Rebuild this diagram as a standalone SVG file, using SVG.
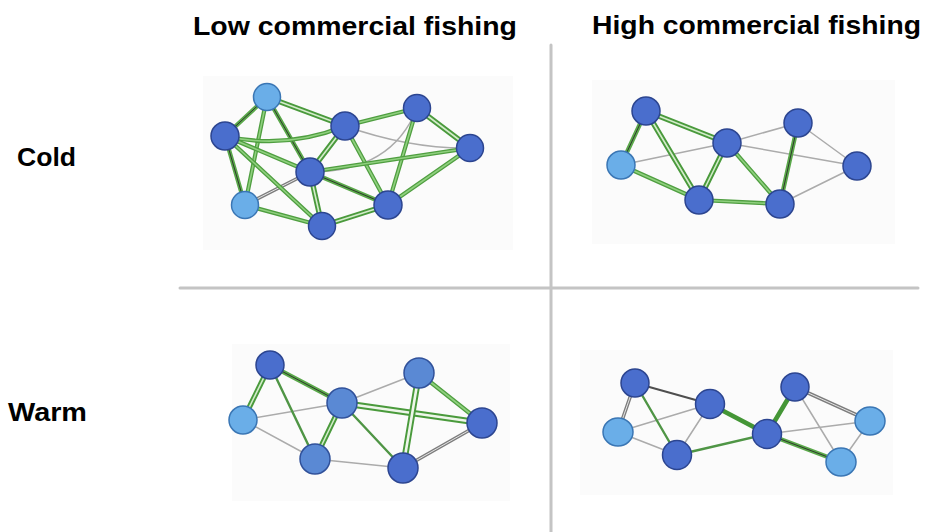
<svg xmlns="http://www.w3.org/2000/svg" width="925" height="532" viewBox="0 0 925 532">
  <style>
    text { font-family: "Liberation Sans", Arial, sans-serif; font-weight: bold; fill: #000; }
    .title { font-size: 26px; }
    .row { font-size: 25px; }
    .divider { stroke: #c4c4c4; stroke-width: 3; }
    .panel { fill: #fbfbfb; }
    line, path { fill: none; stroke-linecap: round; }
    /* green edge, two-tone band */
    .g { stroke: #4f9e40; stroke-width: 4.2; }
    .g-in { stroke: #8fd07e; stroke-width: 1.6; }
    /* doubled green edge */
    .gd { stroke: #4a9a3c; stroke-width: 5.4; }
    .gd-in { stroke: #d3ecca; stroke-width: 1.6; }
    /* wide doubled green edge */
    .gw { stroke: #4a9a3c; stroke-width: 6.5; }
    .gw-in { stroke: #eef6ea; stroke-width: 2.6; }
    /* green edge with dark companion line */
    .gk { stroke: #5aa84a; stroke-width: 4.4; }
    .gk-in { stroke: #2e3a2c; stroke-width: 1; }
    /* slim green edge */
    .gs { stroke: #4f9545; stroke-width: 2.4; }
    /* heavy green edge */
    .gh { stroke: #449636; stroke-width: 4.6; }
    /* thin grey edges */
    .t { stroke: #ababab; stroke-width: 1.5; }
    .tk { stroke: #4e4e4e; stroke-width: 2; }
    .td { stroke: #7d7d7d; stroke-width: 3.6; }
    .td-in { stroke: #e4e4e4; stroke-width: 1; }
    /* nodes */
    .dark { fill: #4a6ecd; stroke: #2c4590; stroke-width: 1.5; }
    .mid { fill: #5a89d4; stroke: #30519a; stroke-width: 1.5; }
    .light { fill: #6aaee8; stroke: #3a76b4; stroke-width: 1.5; }
  </style>

  <!-- panel backgrounds -->
  <g id="panels">
    <rect class="panel" x="203" y="76" width="310" height="174"/>
    <rect class="panel" x="592" y="80" width="303" height="164"/>
    <rect class="panel" x="232" y="344" width="278" height="157"/>
    <rect class="panel" x="580" y="350" width="313" height="145"/>
  </g>

  <!-- quadrant dividers -->
  <g id="dividers">
    <line class="divider" x1="551" y1="45" x2="551" y2="532"/>
    <line class="divider" x1="180" y1="288" x2="918" y2="288"/>
  </g>

  <!-- headings -->
  <g id="labels">
    <text class="title" x="193" y="35" textLength="324" lengthAdjust="spacingAndGlyphs">Low commercial fishing</text>
    <text class="title" x="592" y="34" textLength="329" lengthAdjust="spacingAndGlyphs">High commercial fishing</text>
    <text class="row" x="17" y="166" textLength="59" lengthAdjust="spacingAndGlyphs">Cold</text>
    <text class="row" x="8" y="421" textLength="79" lengthAdjust="spacingAndGlyphs">Warm</text>
  </g>

  <!-- connectors -->
  <g id="connectors">
    <!-- cold / low fishing -->
    <g id="edges-cold-low">
      <path class="t" d="M345,126 Q410,149 470,148"/>
      <path class="t" d="M417,108 Q392,172 310,172"/>
      <line class="td" x1="310" y1="172" x2="245" y2="205"/>
      <line class="td-in" x1="310" y1="172" x2="245" y2="205"/>
      <line class="gk" x1="267" y1="97" x2="225" y2="136"/>
      <line class="gk-in" x1="267" y1="97" x2="225" y2="136"/>
      <line class="gd" x1="267" y1="97" x2="345" y2="126"/>
      <line class="gd-in" x1="267" y1="97" x2="345" y2="126"/>
      <line class="g" x1="267" y1="97" x2="245" y2="205"/>
      <line class="g-in" x1="267" y1="97" x2="245" y2="205"/>
      <line class="gk" x1="267" y1="97" x2="310" y2="172"/>
      <line class="gk-in" x1="267" y1="97" x2="310" y2="172"/>
      <path class="g" d="M225,136 Q285,150 345,126"/>
      <path class="g-in" d="M225,136 Q285,150 345,126"/>
      <line class="gk" x1="225" y1="136" x2="245" y2="205"/>
      <line class="gk-in" x1="225" y1="136" x2="245" y2="205"/>
      <line class="g" x1="225" y1="136" x2="310" y2="172"/>
      <line class="g-in" x1="225" y1="136" x2="310" y2="172"/>
      <line class="g" x1="225" y1="136" x2="322" y2="226"/>
      <line class="g-in" x1="225" y1="136" x2="322" y2="226"/>
      <line class="gd" x1="345" y1="126" x2="310" y2="172"/>
      <line class="gd-in" x1="345" y1="126" x2="310" y2="172"/>
      <line class="g" x1="345" y1="126" x2="388" y2="205"/>
      <line class="g-in" x1="345" y1="126" x2="388" y2="205"/>
      <line class="g" x1="345" y1="126" x2="417" y2="108"/>
      <line class="g-in" x1="345" y1="126" x2="417" y2="108"/>
      <line class="gd" x1="417" y1="108" x2="470" y2="148"/>
      <line class="gd-in" x1="417" y1="108" x2="470" y2="148"/>
      <line class="g" x1="417" y1="108" x2="388" y2="205"/>
      <line class="g-in" x1="417" y1="108" x2="388" y2="205"/>
      <line class="g" x1="470" y1="148" x2="310" y2="172"/>
      <line class="g-in" x1="470" y1="148" x2="310" y2="172"/>
      <line class="g" x1="470" y1="148" x2="388" y2="205"/>
      <line class="g-in" x1="470" y1="148" x2="388" y2="205"/>
      <line class="gd" x1="310" y1="172" x2="322" y2="226"/>
      <line class="gd-in" x1="310" y1="172" x2="322" y2="226"/>
      <line class="gk" x1="310" y1="172" x2="388" y2="205"/>
      <line class="gk-in" x1="310" y1="172" x2="388" y2="205"/>
      <line class="g" x1="245" y1="205" x2="322" y2="226"/>
      <line class="g-in" x1="245" y1="205" x2="322" y2="226"/>
      <line class="gd" x1="322" y1="226" x2="388" y2="205"/>
      <line class="gd-in" x1="322" y1="226" x2="388" y2="205"/>
    </g>

    <!-- cold / high fishing -->
    <g id="edges-cold-high">
      <line class="t" x1="621" y1="165" x2="727" y2="143"/>
      <line class="t" x1="727" y1="143" x2="798" y2="123"/>
      <line class="t" x1="727" y1="143" x2="857" y2="166"/>
      <line class="t" x1="798" y1="123" x2="857" y2="166"/>
      <line class="t" x1="780" y1="204" x2="857" y2="166"/>
      <line class="gk" x1="646" y1="111" x2="621" y2="165"/>
      <line class="gk-in" x1="646" y1="111" x2="621" y2="165"/>
      <line class="gd" x1="646" y1="111" x2="727" y2="143"/>
      <line class="gd-in" x1="646" y1="111" x2="727" y2="143"/>
      <line class="gd" x1="646" y1="111" x2="699" y2="200"/>
      <line class="gd-in" x1="646" y1="111" x2="699" y2="200"/>
      <line class="g" x1="621" y1="165" x2="699" y2="200"/>
      <line class="g-in" x1="621" y1="165" x2="699" y2="200"/>
      <line class="gd" x1="727" y1="143" x2="699" y2="200"/>
      <line class="gd-in" x1="727" y1="143" x2="699" y2="200"/>
      <line class="g" x1="727" y1="143" x2="780" y2="204"/>
      <line class="g-in" x1="727" y1="143" x2="780" y2="204"/>
      <line class="gk" x1="798" y1="123" x2="780" y2="204"/>
      <line class="gk-in" x1="798" y1="123" x2="780" y2="204"/>
      <line class="g" x1="699" y1="200" x2="780" y2="204"/>
      <line class="g-in" x1="699" y1="200" x2="780" y2="204"/>
    </g>

    <!-- warm / low fishing -->
    <g id="edges-warm-low">
      <line class="t" x1="243" y1="420" x2="342" y2="403"/>
      <line class="t" x1="243" y1="420" x2="315" y2="459"/>
      <line class="t" x1="342" y1="403" x2="419" y2="373"/>
      <line class="t" x1="315" y1="459" x2="403" y2="468"/>
      <line class="td" x1="403" y1="468" x2="482" y2="423"/>
      <line class="td-in" x1="403" y1="468" x2="482" y2="423"/>
      <line class="gd" x1="270" y1="365" x2="243" y2="420"/>
      <line class="gd-in" x1="270" y1="365" x2="243" y2="420"/>
      <line class="gk" x1="270" y1="365" x2="342" y2="403"/>
      <line class="gk-in" x1="270" y1="365" x2="342" y2="403"/>
      <line class="gs" x1="270" y1="365" x2="315" y2="459"/>
      <line class="gd" x1="342" y1="403" x2="315" y2="459"/>
      <line class="gd-in" x1="342" y1="403" x2="315" y2="459"/>
      <line class="gs" x1="342" y1="403" x2="403" y2="468"/>
      <line class="gw" x1="342" y1="403" x2="482" y2="423"/>
      <line class="gw-in" x1="342" y1="403" x2="482" y2="423"/>
      <line class="gw" x1="419" y1="373" x2="403" y2="468"/>
      <line class="gw-in" x1="419" y1="373" x2="403" y2="468"/>
      <line class="g" x1="419" y1="373" x2="482" y2="423"/>
      <line class="g-in" x1="419" y1="373" x2="482" y2="423"/>
    </g>

    <!-- warm / high fishing -->
    <g id="edges-warm-high">
      <line class="t" x1="618" y1="432" x2="710" y2="404"/>
      <line class="t" x1="618" y1="432" x2="677" y2="455"/>
      <line class="t" x1="710" y1="404" x2="677" y2="455"/>
      <line class="t" x1="767" y1="434" x2="870" y2="421"/>
      <line class="t" x1="795" y1="387" x2="841" y2="462"/>
      <line class="t" x1="870" y1="421" x2="841" y2="462"/>
      <line class="td" x1="635" y1="383" x2="618" y2="432"/>
      <line class="td-in" x1="635" y1="383" x2="618" y2="432"/>
      <line class="tk" x1="635" y1="383" x2="710" y2="404"/>
      <line class="gs" x1="635" y1="383" x2="677" y2="455"/>
      <line class="gh" x1="710" y1="404" x2="767" y2="434"/>
      <line class="gs" x1="677" y1="455" x2="767" y2="434"/>
      <line class="gh" x1="767" y1="434" x2="795" y2="387"/>
      <line class="gk" x1="767" y1="434" x2="841" y2="462"/>
      <line class="gk-in" x1="767" y1="434" x2="841" y2="462"/>
      <line class="td" x1="795" y1="387" x2="870" y2="421"/>
      <line class="td-in" x1="795" y1="387" x2="870" y2="421"/>
    </g>
  </g>

  <!-- nodes: cold / low fishing -->
  <g id="cl-a"><circle class="light" cx="267" cy="97" r="13.5"/></g>
  <g id="cl-b"><circle class="dark" cx="225" cy="136" r="14"/></g>
  <g id="cl-c"><circle class="dark" cx="345" cy="126" r="14"/></g>
  <g id="cl-d"><circle class="dark" cx="417" cy="108" r="13.5"/></g>
  <g id="cl-e"><circle class="dark" cx="470" cy="148" r="13.5"/></g>
  <g id="cl-f"><circle class="dark" cx="310" cy="172" r="14"/></g>
  <g id="cl-g"><circle class="light" cx="245" cy="205" r="13.5"/></g>
  <g id="cl-h"><circle class="dark" cx="322" cy="226" r="13.5"/></g>
  <g id="cl-i"><circle class="dark" cx="388" cy="205" r="14"/></g>

  <!-- nodes: cold / high fishing -->
  <g id="ch-a"><circle class="dark" cx="646" cy="111" r="14"/></g>
  <g id="ch-b"><circle class="light" cx="621" cy="165" r="14"/></g>
  <g id="ch-c"><circle class="dark" cx="727" cy="143" r="14"/></g>
  <g id="ch-d"><circle class="dark" cx="798" cy="123" r="14"/></g>
  <g id="ch-e"><circle class="dark" cx="857" cy="166" r="14"/></g>
  <g id="ch-f"><circle class="dark" cx="699" cy="200" r="14"/></g>
  <g id="ch-g"><circle class="dark" cx="780" cy="204" r="14"/></g>

  <!-- nodes: warm / low fishing -->
  <g id="wl-a"><circle class="dark" cx="270" cy="365" r="14"/></g>
  <g id="wl-b"><circle class="light" cx="243" cy="420" r="14"/></g>
  <g id="wl-c"><circle class="mid" cx="342" cy="403" r="15"/></g>
  <g id="wl-d"><circle class="mid" cx="419" cy="373" r="15"/></g>
  <g id="wl-e"><circle class="dark" cx="482" cy="423" r="15"/></g>
  <g id="wl-f"><circle class="mid" cx="315" cy="459" r="15"/></g>
  <g id="wl-g"><circle class="dark" cx="403" cy="468" r="15"/></g>

  <!-- nodes: warm / high fishing -->
  <g id="wh-a"><circle class="dark" cx="635" cy="383" r="14"/></g>
  <g id="wh-b"><ellipse class="light" cx="618" cy="432" rx="15" ry="14"/></g>
  <g id="wh-c"><circle class="dark" cx="710" cy="404" r="14.5"/></g>
  <g id="wh-d"><circle class="dark" cx="677" cy="455" r="14.5"/></g>
  <g id="wh-e"><circle class="dark" cx="767" cy="434" r="14.5"/></g>
  <g id="wh-f"><circle class="dark" cx="795" cy="387" r="14"/></g>
  <g id="wh-g"><ellipse class="light" cx="870" cy="421" rx="15" ry="14"/></g>
  <g id="wh-h"><ellipse class="light" cx="841" cy="462" rx="15" ry="14"/></g>
</svg>
